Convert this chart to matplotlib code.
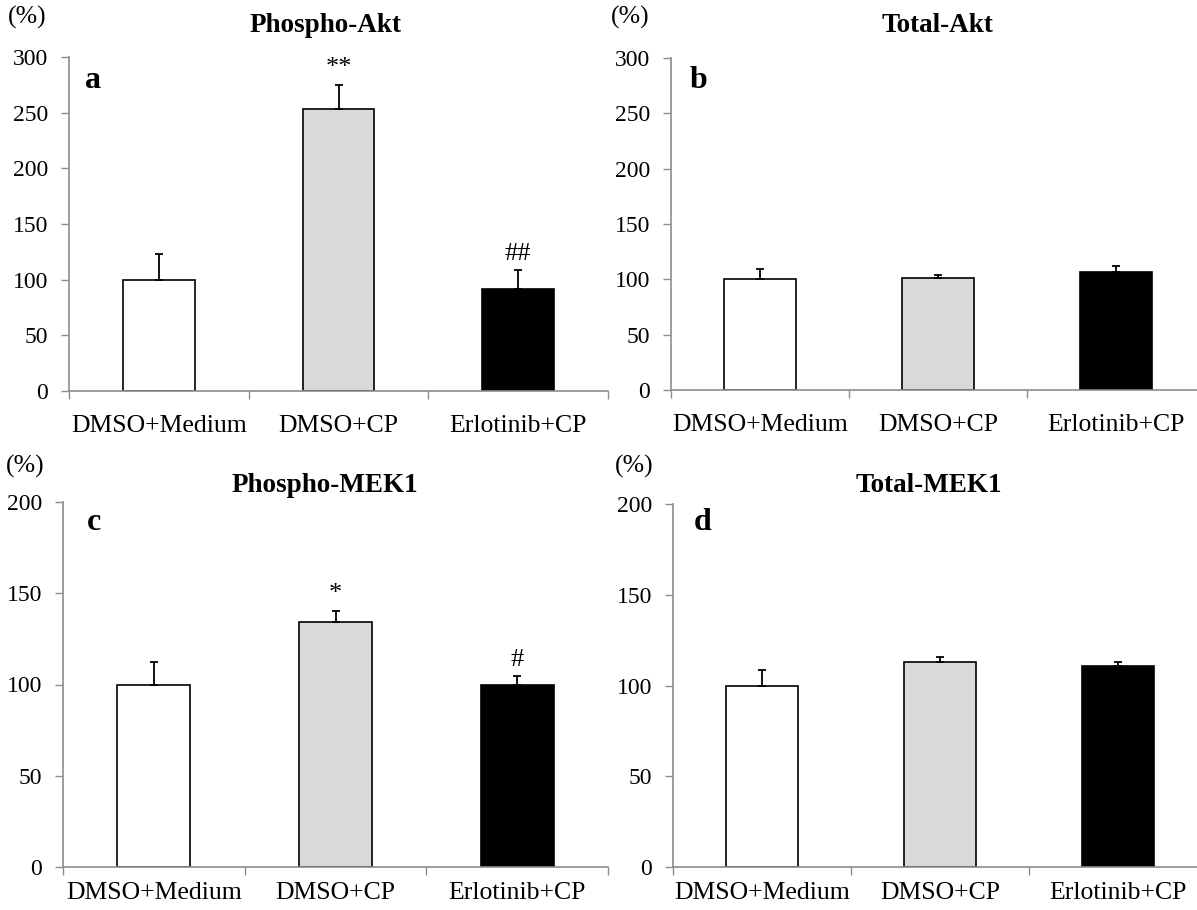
import matplotlib
matplotlib.use('Agg')
import matplotlib.pyplot as plt

plt.rcParams['font.family'] = ['Liberation Serif', 'DejaVu Serif']

categories = ['DMSO+Medium', 'DMSO+CP', 'Erlotinib+CP']
bar_colors = ['white', '#d9d9d9', 'black']

# panel data: values and upper error (SE)
phospho_akt = [100, 253.5, 92]
phospho_akt_err = [23.3, 21.5, 16.5]
total_akt = [100, 101.6, 106.5]
total_akt_err = [9.5, 2.0, 6.0]
phospho_mek1 = [100, 134.3, 99.6]
phospho_mek1_err = [12.3, 6.0, 5.0]
total_mek1 = [100, 112.7, 110.8]
total_mek1_err = [8.5, 2.8, 2.4]

titles = ['Phospho-Akt', 'Total-Akt', 'Phospho-MEK1', 'Total-MEK1']
letters = ['a', 'b', 'c', 'd']
ymaxes = [300, 300, 200, 200]
ysteps = [50, 50, 50, 50]
marks = [['', '**', '##'], ['', '', ''], ['', '*', '#'], ['', '', '']]

W, H = 1197, 910
fig = plt.figure(figsize=(W / 100, H / 100), dpi=100)

# axes boxes in pixels: left, right, top(ymax), bottom(0)
boxes = [(69, 608, 57, 391), (671, 1205, 58, 390),
         (63, 608, 502, 867), (673, 1207, 504, 867)]
title_pos = [(326, 25), (937, 25), (325, 485), (929, 485)]
pct_pos = [(27, 17), (630, 17), (25, 466), (634, 466)]
letter_pos = [(93, 80), (698, 80), (94, 523), (703, 523)]
label_pads = [17, 17, 10.5, 10.5]

panels = [(phospho_akt, phospho_akt_err), (total_akt, total_akt_err),
          (phospho_mek1, phospho_mek1_err), (total_mek1, total_mek1_err)]

axis_gray = '#8c8c8c'

for i, (vals, errs) in enumerate(panels):
    l, r, t, b = boxes[i]
    ax = fig.add_axes([l / W, 1 - b / H, (r - l) / W, (b - t) / H])
    x = range(len(categories))
    ax.bar(x, vals, width=0.4, color=bar_colors, edgecolor='black',
           linewidth=1.2, zorder=2)
    ax.errorbar(x, vals, yerr=[[0] * len(errs), errs], fmt='none',
                ecolor='black', elinewidth=1.3, capsize=3, capthick=1.3,
                zorder=3)
    for j, m in enumerate(marks[i]):
        if m:
            ax.annotate(m, (j, vals[j] + errs[j]), xytext=(0, 4),
                        textcoords='offset points', ha='center', va='bottom',
                        fontsize=19)
    ax.set_xlim(-0.5, 2.5)
    ax.set_ylim(0, ymaxes[i])
    ax.set_yticks(range(0, ymaxes[i] + 1, ysteps[i]))
    ax.set_xticks([-0.5, 0.5, 1.5, 2.5])
    ax.set_xticklabels([])
    ax.set_xticks(list(x), minor=True)
    ax.set_xticklabels(categories, minor=True, fontsize=18.5)
    ax.tick_params(axis='x', which='major', direction='out', length=6,
                   color=axis_gray, width=1)
    ax.tick_params(axis='x', which='minor', length=0, pad=label_pads[i])
    ax.tick_params(axis='y', direction='out', length=6, color=axis_gray,
                   width=1, labelsize=17, pad=9)
    for s in ['top', 'right']:
        ax.spines[s].set_visible(False)
    for s in ['left', 'bottom']:
        ax.spines[s].set_color(axis_gray)
        ax.spines[s].set_linewidth(1.2)

    fig.text(title_pos[i][0] / W, 1 - title_pos[i][1] / H, titles[i],
             ha='center', va='center', fontsize=19.5, fontweight='bold')
    fig.text(pct_pos[i][0] / W, 1 - pct_pos[i][1] / H, '(%)',
             ha='center', va='center', fontsize=18.5)
    fig.text(letter_pos[i][0] / W, 1 - letter_pos[i][1] / H, letters[i],
             ha='center', va='center', fontsize=23, fontweight='bold')

fig.savefig('out.png', dpi=100)
